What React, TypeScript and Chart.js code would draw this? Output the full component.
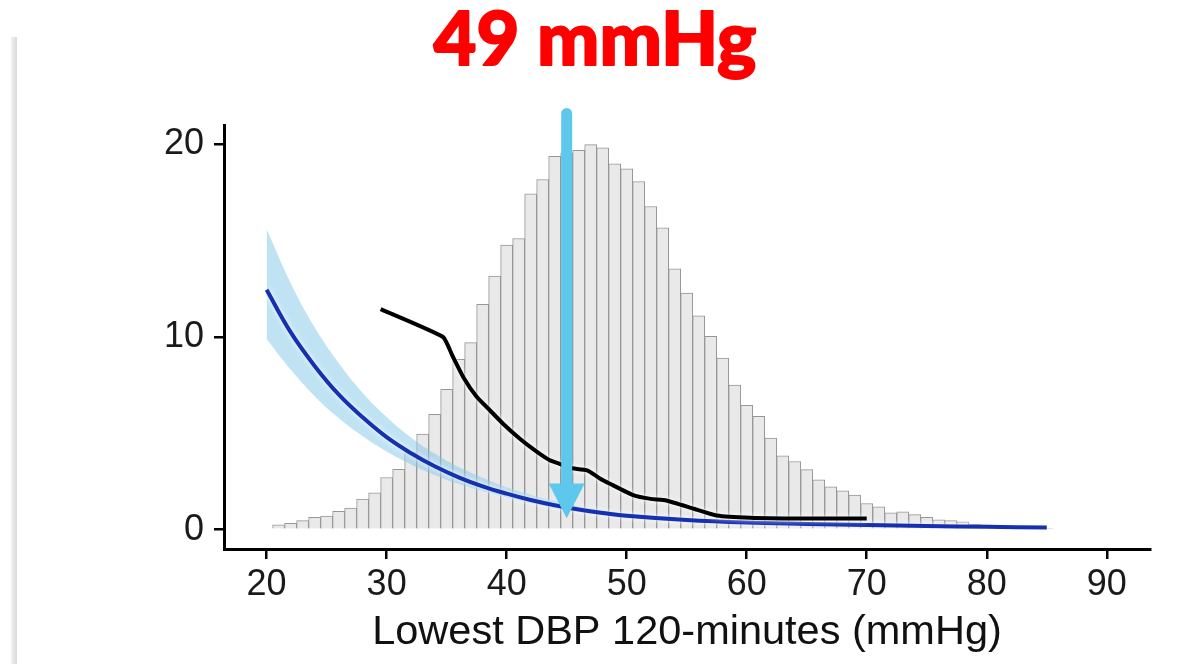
import React, { useEffect, useRef } from "react";
import { Chart, registerables } from "chart.js";

Chart.register(...registerables);

// Histogram (bin centres, mmHg) and bar heights
const BIN_CENTERS = [
  21, 22, 23, 24, 25, 26, 27, 28, 29, 30, 31, 32, 33, 34, 35, 36, 37, 38, 39, 40,
  41, 42, 43, 44, 45, 46, 47, 48, 49, 50, 51, 52, 53, 54, 55, 56, 57, 58, 59, 60,
  61, 62, 63, 64, 65, 66, 67, 68, 69, 70, 71, 72, 73, 74, 75, 76, 77, 78, 79, 80,
  81, 82, 83, 84, 85,
];
const BIN_HEIGHTS = [
  0.26, 0.33, 0.47, 0.64, 0.71, 0.95, 1.12, 1.59, 1.92, 2.71, 3.14, 4.0, 4.96, 5.99, 7.29, 8.84, 9.71, 11.69, 13.16, 14.77,
  15.11, 17.43, 18.17, 19.38, 19.55, 19.69, 19.98, 19.81, 18.98, 18.72, 18.07, 16.77, 15.66, 13.54, 12.28, 11.1, 10.03, 8.9, 7.51, 6.46,
  5.89, 4.75, 3.83, 3.54, 3.12, 2.59, 2.23, 2.02, 1.8, 1.36, 1.19, 0.88, 0.93, 0.78, 0.64, 0.52, 0.47, 0.41, 0.28, 0.26,
  0.19, 0.15, 0.12, 0.1, 0.07,
];

// Fitted curve with confidence band
const FIT_X = [20, 22, 24, 26, 28, 30, 32, 34, 36, 38, 40, 42, 44, 46, 48, 50, 55, 60, 65, 70, 75, 80, 85];
const FIT_MID = [12.45, 10.25, 8.5, 7.02, 5.83, 4.8, 3.98, 3.29, 2.72, 2.25, 1.87, 1.54, 1.27, 1.05, 0.87, 0.72, 0.5, 0.37, 0.3, 0.24, 0.19, 0.15, 0.12];
const FIT_UPPER = [15.6, 12.8, 10.5, 8.65, 7.1, 5.85, 4.8, 3.95, 3.25, 2.7, 2.2, 1.82, 1.5, 1.23, 1.01, 0.84, 0.6, 0.44, 0.35, 0.28, 0.22, 0.18, 0.15];
const FIT_LOWER = [9.9, 8.31, 6.93, 5.8, 4.85, 4.06, 3.4, 2.84, 2.38, 1.99, 1.67, 1.39, 1.12, 0.92, 0.75, 0.6, 0.42, 0.31, 0.25, 0.2, 0.16, 0.12, 0.1];

// Observed (black) curve
const OBS_X = [29.5, 34.7, 35.5, 36.4, 37.5, 38.6, 39.7, 41.1, 42.5, 43.6, 44.4, 45.3, 46.7, 47.8, 48.6, 50.6, 52, 53.3, 55.6, 57.5, 60.3, 64.4, 70];
const OBS_Y = [11.45, 10.0, 9.0, 7.9, 6.9, 6.2, 5.5, 4.72, 4.05, 3.6, 3.42, 3.2, 3.08, 2.65, 2.39, 1.78, 1.6, 1.52, 1.09, 0.74, 0.62, 0.58, 0.58];

const X_TICKS = [20, 30, 40, 50, 60, 70, 80, 90];
const Y_TICKS = [0, 10, 20];
const X_TITLE = "Lowest DBP 120-minutes (mmHg)";
const HEADLINE = "49 mmHg";

// Arrow marker (data units)
const ARROW_X = 45;
const ARROW_TOP = 21.6;
const ARROW_HEAD = 2.4;
const ARROW_TIP = 0.6;

const pairs = (xs: number[], ys: number[]) => xs.map((x, i) => ({ x, y: ys[i] }));

export default function App() {
  const canvasRef = useRef<HTMLCanvasElement | null>(null);

  useEffect(() => {
    const canvas = canvasRef.current;
    if (!canvas) return;

    const decorPlugin = {
      id: "decor",
      beforeDraw(chart: any) {
        const ctx = chart.ctx;
        ctx.save();
        const g = ctx.createLinearGradient(11, 0, 17, 0);
        g.addColorStop(0, "#f2f2f2");
        g.addColorStop(1, "#d9d9d9");
        ctx.fillStyle = g;
        ctx.fillRect(11, 37, 6, 664 - 37);
        ctx.restore();
      },
      beforeDatasetDraw(chart: any, args: any) {
        const ctx = chart.ctx;
        ctx.save();
        if (args.index === 3 || args.index === 4) {
          ctx.shadowColor = "rgba(255,255,255,1)";
          ctx.shadowBlur = 5;
        }
      },
      afterDatasetDraw(chart: any) {
        chart.ctx.restore();
      },
      afterDraw(chart: any) {
        const ctx = chart.ctx;
        const xs = chart.scales.x;
        const ys = chart.scales.y;
        const ax = xs.getPixelForValue(ARROW_X);
        const top = ys.getPixelForValue(ARROW_TOP);
        const head = ys.getPixelForValue(ARROW_HEAD);
        const tip = ys.getPixelForValue(ARROW_TIP);
        ctx.save();
        ctx.strokeStyle = "#5ec8ec";
        ctx.fillStyle = "#5ec8ec";
        ctx.lineWidth = 11;
        ctx.lineCap = "round";
        ctx.beginPath();
        ctx.moveTo(ax, top);
        ctx.lineTo(ax, head + 2);
        ctx.stroke();
        ctx.beginPath();
        ctx.moveTo(ax - 18, head);
        ctx.lineTo(ax + 18, head);
        ctx.lineTo(ax, tip);
        ctx.closePath();
        ctx.fill();

        ctx.fillStyle = "#ff0000";
        ctx.strokeStyle = "#ff0000";
        ctx.lineWidth = 1.8;
        ctx.lineJoin = "round";
        ctx.font = "900 74px Lato, 'Open Sans', sans-serif";
        ctx.textAlign = "center";
        ctx.textBaseline = "alphabetic";
        ctx.fillText(HEADLINE, 595, 65);
        ctx.strokeText(HEADLINE, 595, 65);
        ctx.restore();
      },
    };

    const tickFont = { family: "'Liberation Sans', Arial, sans-serif", size: 36 };

    const chart = new Chart(canvas, {
      type: "bar",
      data: {
        datasets: [
          {
            type: "bar",
            data: pairs(BIN_CENTERS, BIN_HEIGHTS),
            backgroundColor: "#e9e9e9",
            borderColor: "#969696",
            borderWidth: 1,
            barPercentage: 1,
            categoryPercentage: 1,
            order: 10,
          } as any,
          {
            type: "line",
            data: pairs(FIT_X, FIT_UPPER),
            borderWidth: 0,
            borderColor: "rgba(0,0,0,0)",
            pointRadius: 0,
            fill: "+1",
            backgroundColor: "rgba(130,200,232,0.5)",
            tension: 0.4,
            order: 5,
          },
          {
            type: "line",
            data: pairs(FIT_X, FIT_LOWER),
            borderWidth: 0,
            borderColor: "rgba(0,0,0,0)",
            pointRadius: 0,
            fill: false,
            tension: 0.4,
            order: 6,
          },
          {
            type: "line",
            data: pairs(FIT_X, FIT_MID),
            borderColor: "#1530b0",
            borderWidth: 4,
            pointRadius: 0,
            fill: false,
            tension: 0.4,
            order: 2,
          },
          {
            type: "line",
            data: pairs(OBS_X, OBS_Y),
            borderColor: "#000000",
            borderWidth: 4,
            pointRadius: 0,
            fill: false,
            tension: 0.15,
            order: 1,
          },
        ],
      },
      options: {
        animation: false,
        responsive: true,
        maintainAspectRatio: false,
        events: [],
        layout: { padding: { left: 0, top: 125, right: 30, bottom: 0 } },
        plugins: {
          legend: { display: false },
          tooltip: { enabled: false },
          title: { display: false },
        },
        scales: {
          x: {
            type: "linear",
            offset: false,
            min: 16.45,
            max: 93.6,
            afterBuildTicks: (s: any) => {
              s.ticks = X_TICKS.map((v) => ({ value: v }));
            },
            afterFit: (s: any) => {
              s.height = 115;
            },
            grid: {
              offset: false,
              drawOnChartArea: false,
              drawTicks: true,
              tickLength: 10,
              color: "#000",
              lineWidth: 2.5,
            },
            border: { display: true, color: "#000", width: 3 },
            ticks: { font: tickFont, color: "#1a1a1a", padding: 4, maxRotation: 0, autoSkip: false },
            title: {
              display: true,
              text: X_TITLE,
              font: { family: "'Liberation Sans', Arial, sans-serif", size: 41.5 },
              color: "#111",
              padding: { top: 0, bottom: 7 },
            },
          },
          y: {
            type: "linear",
            min: -1,
            max: 21,
            afterBuildTicks: (s: any) => {
              s.ticks = Y_TICKS.map((v) => ({ value: v }));
            },
            afterFit: (s: any) => {
              s.width = 224;
            },
            grid: {
              drawOnChartArea: false,
              drawTicks: true,
              tickLength: 10,
              color: "#000",
              lineWidth: 2.5,
            },
            border: { display: true, color: "#000", width: 3 },
            ticks: { font: tickFont, color: "#1a1a1a", padding: 10 },
          },
        },
      } as any,
      plugins: [decorPlugin],
    });

    return () => chart.destroy();
  }, []);

  return (
    <div style={{ position: "fixed", left: 0, top: 0, width: 1180, height: 664, background: "#fff" }}>
      <canvas ref={canvasRef} />
    </div>
  );
}
